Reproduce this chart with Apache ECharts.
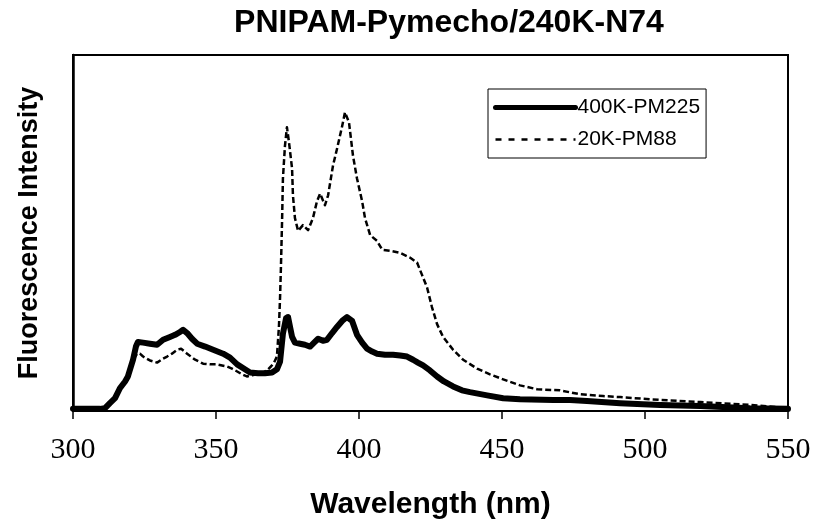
<!DOCTYPE html>
<html>
<head>
<meta charset="utf-8">
<script src="https://cdn.jsdelivr.net/npm/echarts@6/dist/echarts.min.js"></script>
<style>
html,body{margin:0;padding:0;background:#fff;}
#chart{width:814px;height:525px;}
</style>
</head>
<body>
<div id="chart"></div>
<script>
// Wavelength (nm) and relative fluorescence intensity (0-100 of plot height)
var solidNm = [300, 309.4, 311.2, 312.9, 314.7, 316.4, 318.2, 319.2, 321.0, 322.0, 322.7, 324.5, 326.9, 329.4, 331.5, 333.9, 335.7, 337.4, 338.5, 339.9, 341.6, 343.4, 346.2, 349.0, 352.5, 354.9, 357.4, 360.1, 361.9, 364.7, 367.1, 369.6, 371.3, 372.4, 373.4, 374.5, 375.2, 375.9, 376.6, 377.6, 379.4, 381.1, 382.9, 384.3, 385.7, 387.4, 388.8, 390.6, 392.3, 394.1, 395.8, 397.6, 399.3, 401.1, 402.8, 404.6, 406.3, 409.1, 411.9, 414.4, 416.8, 418.9, 420.6, 422.4, 424.8, 427.3, 429.7, 432.9, 436.0, 438.8, 444.8, 450.4, 456.3, 467.9, 473.8, 479.7, 491.3, 505.3, 519.3, 536.7, 550];
var solidVal = [0.6, 0.6, 0.8, 2.2, 3.6, 6.4, 8.3, 9.7, 14.4, 18.1, 19.4, 19.2, 18.9, 18.6, 20.0, 20.8, 21.4, 22.2, 22.8, 21.9, 20.3, 18.9, 18.1, 17.2, 16.1, 15.0, 13.1, 11.7, 10.8, 10.6, 10.6, 10.8, 11.7, 13.9, 21.7, 26.1, 26.4, 23.6, 20.8, 19.2, 18.9, 18.6, 18.1, 19.2, 20.3, 19.7, 20.0, 21.9, 23.6, 25.3, 26.4, 25.3, 21.4, 19.2, 17.5, 16.7, 16.1, 15.8, 15.8, 15.6, 15.3, 14.4, 13.6, 12.8, 11.4, 9.7, 8.3, 6.9, 5.8, 5.3, 4.4, 3.6, 3.3, 3.1, 3.1, 2.8, 2.2, 1.7, 1.4, 0.8, 0.6];

var dashNm = [300, 309.4, 311.2, 312.9, 314.7, 316.4, 318.2, 319.2, 321.0, 322.4, 323.4, 324.5, 326.9, 329.4, 331.5, 332.9, 334.6, 336.4, 337.8, 339.9, 342.7, 345.5, 347.9, 350.4, 352.1, 353.9, 355.6, 357.4, 359.1, 360.8, 362.6, 364.3, 366.1, 367.8, 369.2, 370.3, 371.3, 372.0, 372.4, 372.7, 373.1, 373.4, 374.1, 374.8, 375.5, 376.6, 376.9, 377.6, 378.7, 380.4, 382.2, 383.9, 385.3, 386.4, 388.1, 389.2, 390.9, 392.3, 394.1, 395.1, 396.5, 397.9, 399.3, 401.1, 402.1, 403.9, 406.3, 408.1, 410.9, 414.4, 417.8, 420.3, 422.0, 423.8, 425.5, 427.3, 429.4, 432.9, 436.4, 441.3, 445.8, 450.4, 456.3, 462.3, 470.3, 477.3, 485.3, 491.3, 501.8, 519.3, 536.7, 550];
var dashVal = [0.6, 0.6, 0.8, 2.2, 3.6, 6.4, 8.3, 9.7, 14.4, 16.1, 16.1, 15.3, 14.2, 13.6, 14.7, 15.3, 16.1, 17.2, 17.5, 16.1, 14.4, 13.3, 13.1, 13.1, 12.8, 12.5, 11.9, 11.1, 10.3, 9.7, 10.0, 10.3, 10.6, 11.4, 12.5, 13.6, 15.3, 23.6, 31.9, 40.3, 53.3, 65.3, 74.4, 79.7, 75.6, 68.1, 60.6, 54.2, 50.6, 52.2, 50.8, 54.2, 58.9, 61.1, 57.8, 60.6, 68.9, 73.6, 80.0, 83.9, 81.1, 71.7, 65.3, 58.9, 54.2, 49.4, 47.8, 45.3, 45.0, 44.4, 43.1, 41.7, 38.3, 34.7, 29.2, 24.4, 20.8, 17.2, 14.4, 11.9, 10.3, 8.9, 7.2, 6.1, 5.8, 4.7, 4.2, 3.9, 3.3, 2.5, 1.7, 0.8];

var xTicks = [300, 350, 400, 450, 500, 550];
var seriesNames = ['400K-PM225', '20K-PM88'];

function pairs(xs, ys) { return xs.map(function (x, i) { return [x, ys[i]]; }); }

var chart = echarts.init(document.getElementById('chart'), null, { renderer: 'canvas' });
chart.setOption({
  animation: false,
  backgroundColor: '#fff',
  title: {
    text: 'PNIPAM-Pymecho/240K-N74',
    left: 444, top: 2, textAlign: 'center',
    textStyle: { fontFamily: 'Liberation Sans, Arial', fontWeight: 'bold', fontSize: 32, color: '#000' }
  },
  legend: {
    orient: 'vertical',
    left: 488, top: 89,
    padding: [8, 6, 8, 5],
    itemGap: 11,
    itemWidth: 80, itemHeight: 20,
    borderColor: '#000', borderWidth: 1,
    backgroundColor: '#fff',
    itemStyle: { color: 'transparent', borderWidth: 0, opacity: 0 },
    textStyle: { fontFamily: 'Liberation Sans, Arial', fontSize: 21, color: '#000', padding: [0, 0, 0, -3] },
    data: [
      { name: seriesNames[0], lineStyle: { width: 5, color: '#000', type: 'solid' } },
      { name: seriesNames[1], lineStyle: { width: 2.5, color: '#000', type: [6, 7] } }
    ]
  },
  grid: { left: 73, right: 26, top: 55, bottom: 110, show: true, borderColor: '#000', borderWidth: 2, backgroundColor: 'transparent' },
  xAxis: {
    type: 'value', min: 300, max: 550, interval: 50,
    name: 'Wavelength (nm)', nameLocation: 'middle', nameGap: 79,
    nameTextStyle: { fontFamily: 'Liberation Sans, Arial', fontWeight: 'bold', fontSize: 30, color: '#000' },
    axisLine: { show: true, lineStyle: { color: '#000', width: 2 } },
    axisTick: { show: true, inside: false, length: 8, lineStyle: { color: '#000', width: 1.5 } },
    axisLabel: { margin: 24, fontFamily: 'Liberation Serif, Times New Roman', fontSize: 30, color: '#000',
      formatter: function (v) { return xTicks.indexOf(v) >= 0 ? String(v) : ''; } },
    splitLine: { show: false }
  },
  yAxis: {
    type: 'value', min: 0, max: 100,
    name: 'Fluorescence Intensity', nameLocation: 'middle', nameGap: 30,
    nameTextStyle: { fontFamily: 'Liberation Sans, Arial', fontWeight: 'bold', fontSize: 27, color: '#000' },
    axisLine: { show: true, lineStyle: { color: '#000', width: 2.5 } },
    axisTick: { show: false },
    axisLabel: { show: false },
    splitLine: { show: false }
  },
  series: [
    {
      name: seriesNames[0], type: 'line', data: pairs(solidNm, solidVal),
      symbol: 'none', smooth: false,
      lineStyle: { color: '#000', width: 6, join: 'round', cap: 'round' },
      itemStyle: { color: '#000' }, z: 3
    },
    {
      name: seriesNames[1], type: 'line', data: pairs(dashNm, dashVal),
      symbol: 'none', smooth: false,
      lineStyle: { color: '#000', width: 2.5, type: [6, 3], join: 'round' },
      itemStyle: { color: '#000' }, z: 2
    }
  ]
});
</script>
</body>
</html>
